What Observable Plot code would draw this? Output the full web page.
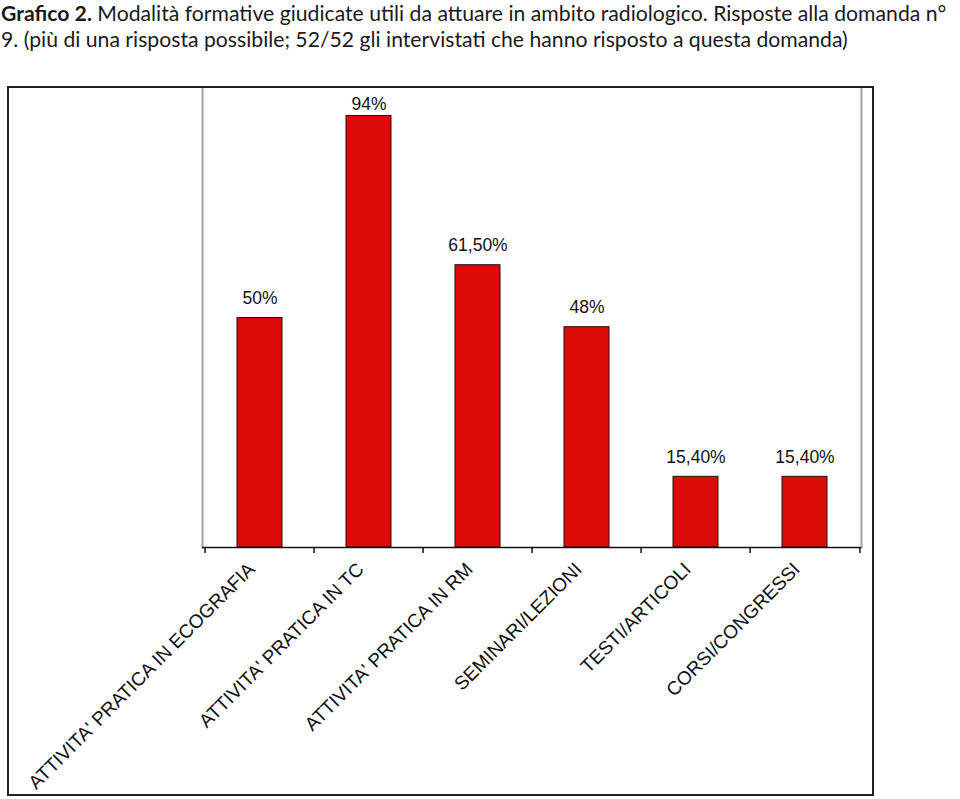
<!DOCTYPE html>
<html>
<head>
<meta charset="utf-8">
<script src="https://cdn.jsdelivr.net/npm/d3@7"></script>
<script src="https://cdn.jsdelivr.net/npm/@observablehq/plot@0.6"></script>
<style>
  html, body { margin: 0; padding: 0; background: #fff; }
  body { width: 960px; height: 799px; position: relative; overflow: hidden; }
  #title { position: absolute; left: 1px; top: 0px; font-family: Lato, "Open Sans", sans-serif; font-size: 21.2px; line-height: 26px; white-space: nowrap; color: #1a1a1a; }
  #title b { font-weight: 700; }
  #chart { position: absolute; left: 7px; top: 86px; border: 2px solid #222; width: 863px; height: 706px; }
  #chart svg { display: block; }
</style>
</head>
<body>
<div id="title"><b>Grafico 2.</b> Modalità formative giudicate utili da attuare in ambito radiologico. Risposte alla domanda n°<br>9. (più di una risposta possibile; 52/52 gli intervistati che hanno risposto a questa domanda)</div>
<div id="chart"></div>
<script>
const categories = [
  "ATTIVITA' PRATICA IN ECOGRAFIA",
  "ATTIVITA' PRATICA IN TC",
  "ATTIVITA' PRATICA IN RM",
  "SEMINARI/LEZIONI",
  "TESTI/ARTICOLI",
  "CORSI/CONGRESSI"
];
const values = [50, 94, 61.5, 48, 15.4, 15.4];
const valueLabels = ["50%", "94%", "61,50%", "48%", "15,40%", "15,40%"];

const data = categories.map((c, i) => ({category: c, value: values[i], label: valueLabels[i]}));

const W = 863, H = 706;
const mL = 193, mR = 11, mT = 0, mB = 247;
const step = (W - mL - mR) / categories.length;
const font = "'Liberation Sans', Arial, sans-serif";

const chart = Plot.plot({
  width: W,
  height: H,
  marginLeft: mL,
  marginRight: mR,
  marginTop: mT,
  marginBottom: mB,
  style: {background: "transparent", fontFamily: font},
  x: {type: "band", domain: categories, paddingInner: 0.59, paddingOuter: 0.295, axis: null},
  y: {domain: [0, 100], axis: null},
  marks: [
    Plot.frame({anchor: "left", stroke: "#a0a0a0", strokeWidth: 2}),
    Plot.frame({anchor: "right", stroke: "#a0a0a0", strokeWidth: 2}),
    Plot.barY(data, {x: "category", y: "value", fill: "#dd0a0a", stroke: "#2a0a0a", strokeWidth: 1}),
    Plot.ruleY([0], {stroke: "#111", strokeWidth: 1.5}),
    Plot.axisX(categories, {tickSize: 6, tickFormat: () => "", dx: -step / 2, stroke: "#111", strokeWidth: 1.5, label: null}),
    Plot.axisX([categories[categories.length - 1]], {tickSize: 6, tickFormat: () => "", dx: step / 2, stroke: "#111", strokeWidth: 1.5, label: null}),
    Plot.text(data, {filter: d => d.value < 90, x: "category", y: "value", text: "label", lineAnchor: "bottom", dy: -14, fontSize: 17.5, fill: "#111", fontFamily: font}),
    Plot.text(data, {filter: d => d.value >= 90, x: "category", y: "value", text: "label", lineAnchor: "bottom", dy: -6, fontSize: 17.5, fill: "#111", fontFamily: font}),
    Plot.text(categories, {x: d => d, frameAnchor: "bottom", rotate: -45, textAnchor: "end", lineAnchor: "bottom", dy: 23, dx: -4, fontSize: 19, fill: "#111", fontFamily: font})
  ]
});
document.getElementById("chart").appendChild(chart);
</script>
</body>
</html>
